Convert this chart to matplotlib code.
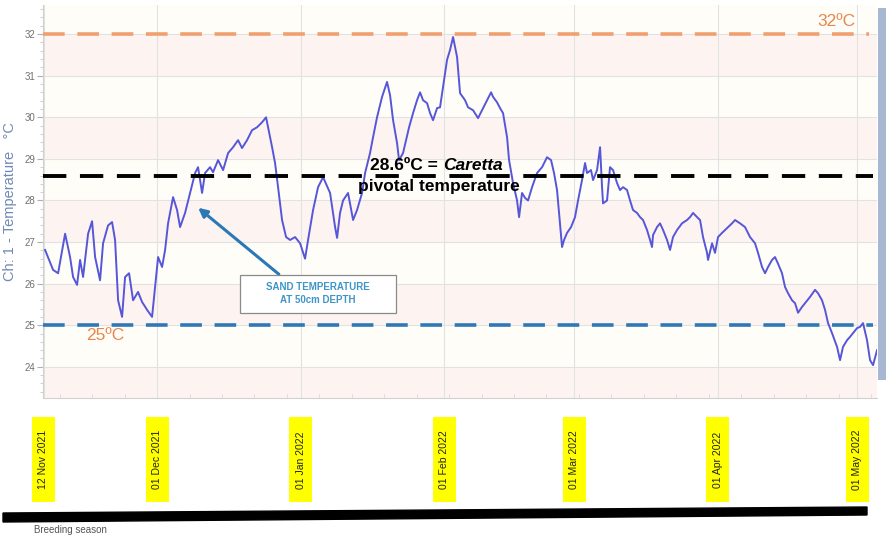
import matplotlib
matplotlib.use('Agg')
import matplotlib.pyplot as plt
from matplotlib.patches import Rectangle, Polygon, FancyArrowPatch
from matplotlib.ticker import MultipleLocator
from matplotlib.transforms import blended_transform_factory

plt.rcParams['font.family'] = ['Liberation Sans', 'DejaVu Sans']

# ---- data: days since 01 Dec 2021, sand temperature (degC) at 50 cm ----
days = [-24.16, -22.43, -21.35, -19.84, -18.77, -18.12, -17.26, -16.61, -15.96, -14.88,
        -14.02, -13.37, -12.30, -11.65, -10.57, -9.71, -9.06, -8.41, -7.55, -6.90,
        -6.04, -5.18, -4.10, -3.24, -2.16, -1.08, -0.43, 0.22, 1.08, 1.73,
        2.37, 3.45, 4.31, 4.96, 6.04, 7.12, 8.20, 8.84, 9.71, 10.35,
        11.43, 12.08, 13.16, 14.24, 15.32, 16.39, 17.47, 18.33, 19.41, 20.49,
        21.57, 22.65, 23.51, 23.94, 24.81, 25.45, 26.10, 26.96, 27.83, 28.69,
        29.77, 30.85, 31.92, 32.57, 33.65, 34.73, 35.81, 37.32, 38.40, 38.83,
        39.47, 40.12, 41.20, 42.28, 43.14, 44.22, 44.87, 45.94, 46.59, 47.45,
        48.53, 49.61, 50.26, 50.91, 51.77, 52.20, 53.06, 53.71, 54.36, 55.22,
        56.08, 56.73, 57.38, 58.24, 58.89, 59.53, 60.40, 61.04, 61.69, 62.55,
        63.20, 63.85, 64.28, 64.71, 65.36, 66.44, 67.08, 68.16, 69.24, 70.10,
        71.18, 72.05, 72.48, 73.34, 73.99, 74.63, 75.50, 75.93, 76.79, 77.65,
        78.09, 78.73, 79.38, 80.03, 80.89, 81.97, 83.05, 84.12, 84.99, 85.63,
        86.28, 86.71, 87.36, 87.79, 88.44, 89.30, 90.16, 90.81, 91.67, 92.32,
        92.75, 93.61, 94.05, 94.91, 95.56, 95.99, 96.20, 97.07, 97.71, 98.36,
        99.22, 99.87, 100.52, 101.38, 102.03, 102.67, 103.54, 104.18, 104.83, 105.69,
        106.34, 106.77, 106.99, 107.85, 108.50, 109.15, 110.01, 110.66, 111.30, 112.17,
        113.24, 114.32, 114.97, 115.62, 116.48, 117.13, 117.77, 118.64, 118.85, 119.72,
        120.36, 121.01, 121.87, 122.52, 123.17, 124.03, 124.68, 125.75, 126.83, 127.91,
        128.99, 129.64, 130.50, 131.15, 131.80, 132.66, 133.30, 133.95, 134.81, 135.46,
        136.11, 136.97, 137.62, 138.27, 139.13, 139.78, 140.85, 141.93, 142.58, 143.44,
        144.09, 144.74, 145.60, 146.68, 147.33, 147.97, 148.84, 149.48, 150.13, 150.99,
        151.64, 152.29, 153.15, 153.80, 154.45, 155.31]
temps = [26.81, 26.33, 26.25, 27.20, 26.64, 26.16, 25.97, 26.57, 26.16, 27.20,
         27.50, 26.64, 26.08, 26.97, 27.40, 27.48, 27.05, 25.60, 25.20, 26.16,
         26.25, 25.60, 25.80, 25.56, 25.37, 25.20, 25.92, 26.64, 26.40, 26.81,
         27.45, 28.08, 27.77, 27.36, 27.70, 28.18, 28.66, 28.80, 28.18, 28.66,
         28.80, 28.68, 28.97, 28.73, 29.14, 29.28, 29.45, 29.26, 29.45, 29.69,
         29.76, 29.88, 30.00, 29.76, 29.28, 28.90, 28.32, 27.53, 27.12, 27.05,
         27.12, 26.97, 26.60, 27.05, 27.77, 28.32, 28.56, 28.18, 27.36, 27.10,
         27.70, 28.00, 28.18, 27.53, 27.77, 28.18, 28.66, 29.14, 29.52, 30.00,
         30.49, 30.85, 30.53, 29.93, 29.38, 28.97, 29.14, 29.45, 29.76, 30.10,
         30.41, 30.60, 30.41, 30.34, 30.10, 29.93, 30.22, 30.24, 30.73, 31.38,
         31.62, 31.93, 31.69, 31.45, 30.58, 30.41, 30.24, 30.17, 29.98, 30.17,
         30.41, 30.60, 30.49, 30.36, 30.22, 30.10, 29.52, 28.97, 28.42, 28.00,
         27.60, 28.18, 28.06, 28.00, 28.32, 28.66, 28.80, 29.04, 28.97, 28.66,
         28.25, 27.70, 26.88, 27.05, 27.22, 27.36, 27.60, 28.00, 28.49, 28.90,
         28.66, 28.73, 28.49, 28.73, 29.28, 28.32, 27.93, 28.00, 28.80, 28.73,
         28.42, 28.25, 28.32, 28.25, 28.00, 27.77, 27.70, 27.60, 27.53, 27.29,
         27.05, 26.88, 27.17, 27.36, 27.45, 27.29, 27.05, 26.81, 27.12, 27.29,
         27.45, 27.53, 27.60, 27.70, 27.60, 27.53, 27.12, 26.74, 26.57, 26.97,
         26.74, 27.12, 27.22, 27.29, 27.36, 27.45, 27.53, 27.45, 27.36, 27.12,
         26.97, 26.74, 26.40, 26.25, 26.40, 26.57, 26.64, 26.48, 26.25, 25.92,
         25.77, 25.60, 25.53, 25.30, 25.44, 25.53, 25.68, 25.85, 25.77, 25.60,
         25.37, 25.05, 24.81, 24.48, 24.16, 24.48, 24.64, 24.72, 24.81, 24.93,
         24.96, 25.05, 24.64, 24.16, 24.04, 24.40]

tick_days = [-24.5, 0, 31, 62, 90, 121, 151]
tick_labels = ['12 Nov 2021', '01 Dec 2021', '01 Jan 2022', '01 Feb 2022',
               '01 Mar 2022', '01 Apr 2022', '01 May 2022']
y_ticks = [24, 25, 26, 27, 28, 29, 30, 31, 32]
upper_limit = 32.0
pivotal = 28.6
lower_limit = 25.0

W, H = 887, 539
fig = plt.figure(figsize=(W / 100, H / 100), dpi=100)
fig.patch.set_facecolor('white')

def fp(px, py):
    return (px / W, 1 - py / H)

ax = fig.add_axes([43.5 / W, 1 - 398 / H, (877 - 43.5) / W, (398 - 5) / H])
ax.set_xlim(-24.5, 155.3)
ax.set_ylim(23.25, 32.7)

# faint alternating bands
for k in range(23, 33):
    ax.axhspan(k, k + 1, color='#fdf4f1' if k % 2 == 1 else '#fffdf8', zorder=0, lw=0)

ax.set_yticks(y_ticks)
ax.yaxis.set_minor_locator(MultipleLocator(0.2))
ax.set_xticks(tick_days)
ax.set_xticklabels(tick_labels, rotation=90, fontsize=7.5, color='#222222', va='center')
ax.xaxis.set_minor_locator(MultipleLocator(7))
ax.tick_params(axis='x', which='major', length=0, pad=44.5)
ax.tick_params(axis='x', which='minor', length=3, color='#d8d8d8', direction='in')
ax.tick_params(axis='y', which='major', length=4, color='#b0b0b0', labelsize=7, labelcolor='#707070', pad=2)
ax.tick_params(axis='y', which='minor', length=2, color='#c8c8c8')

# yellow label backgrounds (fixed size, as in the reference), drawn beneath the axes
bt = blended_transform_factory(ax.transData, fig.transFigure)
px_per_day = (877 - 43.5) / (155.3 + 24.5)
for d in tick_days:
    fig.patches.append(Rectangle((d - 11.5 / px_per_day, 1 - 502 / H), 23 / px_per_day, 85 / H,
                                 transform=bt, facecolor='#ffff00', edgecolor='none', zorder=-5))

ax.grid(True, axis='both', which='major', color='#e2e2e2', lw=0.8, zorder=1)
for s in ['top', 'right']:
    ax.spines[s].set_visible(False)
for s in ['left', 'bottom']:
    ax.spines[s].set_color('#d0d0d0')
    ax.spines[s].set_linewidth(0.8)

ax.set_ylabel('Ch: 1 - Temperature   °C', fontsize=10.5, color='#7088b4', labelpad=5)

ax.plot(days, temps, color='#5656d8', lw=1.4, zorder=4)

ax.axhline(upper_limit, xmin=0, xmax=0.99, color='#f0a070', lw=2.6, dashes=(6, 3.5), zorder=3)
ax.axhline(pivotal, xmin=0, xmax=0.995, color='black', lw=2.8, dashes=(6, 3.5), zorder=5)
ax.axhline(lower_limit, xmin=0, xmax=0.995, color='#2f78b8', lw=2.6, dashes=(6, 3.5), zorder=3)

fig.text(*fp(836, 22), '32ºC', fontsize=12.5, color='#e8864a', ha='center', va='center')
fig.text(*fp(105, 336), '25ºC', fontsize=12.5, color='#e8864a', ha='center', va='center')

# pivotal temperature annotation: two pieces on line 1
renderer = fig.canvas.get_renderer()
t1 = fig.text(*fp(370, 165), '28.6ºC = ', fontsize=12.5, weight='bold', color='black',
              ha='left', va='center', zorder=10)
bb = t1.get_window_extent(renderer=renderer)
fig.text(bb.x1 / W, 1 - 165 / H, 'Caretta', fontsize=12.5, weight='bold', style='italic',
         color='black', ha='left', va='center', zorder=10)
fig.text(*fp(439, 187), 'pivotal temperature', fontsize=12.5, weight='bold', color='black',
         ha='center', va='center', zorder=10)

arrow = FancyArrowPatch(fp(281, 276), fp(196, 206), transform=fig.transFigure,
                        arrowstyle='-|>', mutation_scale=13, lw=2.2, color='#2a78b8')
fig.patches.append(arrow)
fig.patches.append(Rectangle(fp(240, 313), 156 / W, 38 / H, transform=fig.transFigure,
                             facecolor='white', edgecolor='#8a8a8a', lw=0.9))
fig.text(*fp(318, 287), 'SAND TEMPERATURE', fontsize=7, color='#3f95c8',
         ha='center', va='center', weight='bold')
fig.text(*fp(318, 300), 'AT 50cm DEPTH', fontsize=7, color='#3f95c8',
         ha='center', va='center', weight='bold')

# right-side bar
fig.patches.append(Rectangle(fp(878, 380), 9 / W, 372 / H, transform=fig.transFigure,
                             facecolor='#a8b8d2', edgecolor='none'))

# breeding season bar
pts = [fp(3, 513), fp(867, 507), fp(867, 515), fp(3, 522)]
fig.patches.append(Polygon(pts, closed=True, transform=fig.transFigure,
                           facecolor='black', edgecolor='black'))
fig.text(*fp(34, 530), 'Breeding season', fontsize=7, color='#555555', ha='left', va='center')

fig.savefig('out.png', dpi=100, facecolor='white')
